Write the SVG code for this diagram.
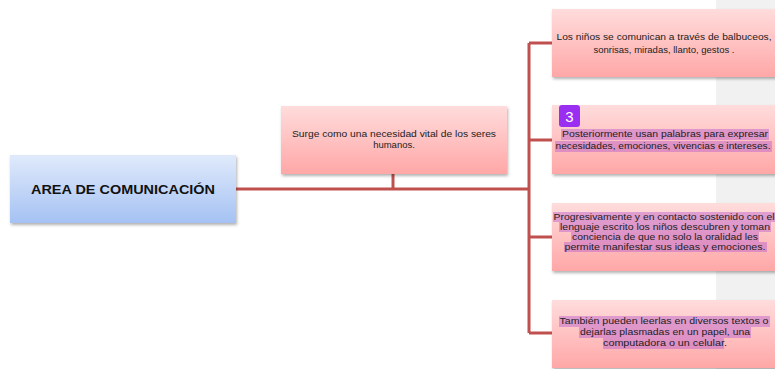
<svg xmlns="http://www.w3.org/2000/svg" width="775" height="369" viewBox="0 0 775 369">
<defs>
<linearGradient id="pink" x1="0" y1="0" x2="0" y2="1">
<stop offset="0" stop-color="#ffdcdc"/>
<stop offset="1" stop-color="#ffa7a7"/>
</linearGradient>
<linearGradient id="blue" x1="0" y1="0" x2="0" y2="1">
<stop offset="0" stop-color="#e0eafb"/>
<stop offset="1" stop-color="#a5c2f3"/>
</linearGradient>
<filter id="sh" x="-10%" y="-10%" width="120%" height="130%">
<feDropShadow dx="1" dy="2" stdDeviation="1.5" flood-color="#000" flood-opacity="0.3"/>
</filter>
</defs>
<style>
.t{font-family:"Liberation Sans",Arial,sans-serif;font-size:9.5px;fill:#222;text-anchor:middle}
.title{font-family:"Liberation Sans",Arial,sans-serif;font-size:13px;font-weight:bold;fill:#111;text-anchor:middle}
.hl{fill:#b85ccc;opacity:0.45}
.c{stroke:#c0504d;stroke-width:3;fill:none}
.box{filter:url(#sh)}
</style>
<rect x="0" y="0" width="775" height="369" fill="#fff"/>
<rect x="716" y="0" width="59" height="369" fill="#f1f1f1"/>
<g id="connectors">
<path class="c" d="M236 189 H529"/>
<path class="c" d="M393 174 V189"/>
<path class="c" d="M529 43 V333"/>
<path class="c" d="M529 43 H552 M529 140 H552 M529 237 H552 M529 333 H552"/>
</g>
<g id="n0">
<rect class="box" x="10" y="155" width="226" height="68" fill="url(#blue)"/>
<text class="title" x="123" y="194" textLength="184" lengthAdjust="spacingAndGlyphs">AREA DE COMUNICACIÓN</text>
</g>
<g id="n1">
<rect class="box" x="281" y="106" width="226" height="68" fill="url(#pink)"/>
<text class="t" x="394" y="137" textLength="204" lengthAdjust="spacingAndGlyphs">Surge como una necesidad vital de los seres</text>
<text class="t" x="394" y="148">humanos.</text>
</g>
<g id="n2">
<rect class="box" x="552" y="9" width="226" height="68" fill="url(#pink)"/>
<text class="t" x="664" y="40" textLength="215" lengthAdjust="spacingAndGlyphs">Los niños se comunican a través de balbuceos,</text>
<text class="t" x="664" y="53">sonrisas, miradas, llanto, gestos .</text>
</g>
<g id="n3">
<rect class="box" x="552" y="105" width="226" height="69" fill="url(#pink)"/>
<rect class="hl" x="561" y="129" width="208" height="11"/>
<rect class="hl" x="555" y="141" width="217" height="11"/>
<text class="t" x="665" y="137" textLength="206" lengthAdjust="spacingAndGlyphs">Posteriormente usan palabras para expresar</text>
<text class="t" x="663" y="149" textLength="215" lengthAdjust="spacingAndGlyphs">necesidades, emociones, vivencias e intereses.</text>
<rect x="559" y="105" width="21" height="22" rx="3" fill="#9a2ff2"/>
<text x="569.5" y="122" font-family="Liberation Sans,Arial,sans-serif" font-size="15" fill="#fff" text-anchor="middle">3</text>
</g>
<g id="n4">
<rect class="box" x="552" y="203" width="226" height="68" fill="url(#pink)"/>
<rect class="hl" x="553" y="212" width="222" height="10"/>
<rect class="hl" x="559" y="222" width="212" height="10"/>
<rect class="hl" x="571" y="232" width="188" height="10"/>
<rect class="hl" x="564" y="242" width="203" height="10"/>
<text class="t" x="664" y="220" textLength="221" lengthAdjust="spacingAndGlyphs">Progresivamente y en contacto sostenido con el</text>
<text class="t" x="665" y="230" textLength="210" lengthAdjust="spacingAndGlyphs">lenguaje escrito los niños descubren y toman</text>
<text class="t" x="665" y="240" textLength="186" lengthAdjust="spacingAndGlyphs">conciencia de que no solo la oralidad les</text>
<text class="t" x="665" y="250" textLength="201" lengthAdjust="spacingAndGlyphs">permite manifestar sus ideas y emociones.</text>
</g>
<g id="n5">
<rect class="box" x="552" y="300" width="226" height="68" fill="url(#pink)"/>
<rect class="hl" x="559" y="316" width="211" height="11"/>
<rect class="hl" x="579" y="327" width="172" height="11"/>
<rect class="hl" x="603" y="338" width="121" height="11"/>
<text class="t" x="664" y="324" textLength="209" lengthAdjust="spacingAndGlyphs">También pueden leerlas en diversos textos o</text>
<text class="t" x="665" y="335" textLength="170" lengthAdjust="spacingAndGlyphs">dejarlas plasmadas en un papel, una</text>
<text class="t" x="665" y="346" textLength="124" lengthAdjust="spacingAndGlyphs">computadora o un celular.</text>
</g>
</svg>
